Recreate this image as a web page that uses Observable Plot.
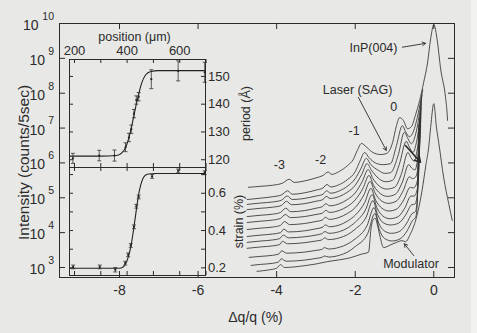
<!DOCTYPE html>
<html><head><meta charset="utf-8">
<script src="https://cdn.jsdelivr.net/npm/d3@7"></script>
<script src="https://cdn.jsdelivr.net/npm/@observablehq/plot@0.6"></script>
<style>
html,body{margin:0;padding:0;background:#e8e8e6;}
#wrap{position:relative;width:477px;height:333px;overflow:hidden;background:#e8e8e6;}
#strip{position:absolute;left:471px;top:0;width:6px;height:333px;background:#f2f2f1;}
</style></head><body><div id="wrap"><div id="strip"></div></div>
<script>
// ---------- main chart data: Δq/q (%) vs log10 intensity, curves top (Laser SAG) to bottom (Modulator)
const curve0 = [[-4.72,5.30],[-4.4,5.33],[-4.1,5.36],[-3.85,5.42],[-3.68,5.53],[-3.55,5.44],[-3.3,5.48],[-3.0,5.57],[-2.82,5.64],[-2.69,5.74],[-2.6,5.67],[-2.4,5.76],[-2.2,5.92],[-2.05,6.1],[-1.95,6.35],[-1.84,6.56],[-1.72,6.46],[-1.55,6.30],[-1.35,6.24],[-1.2,6.27],[-1.05,6.58],[-0.95,7.07],[-0.87,7.30],[-0.77,7.21],[-0.67,6.98],[-0.57,7.04],[-0.47,7.36],[-0.36,7.79],[-0.26,8.30],[-0.16,8.87],[-0.08,9.56],[0,9.97],[0.09,9.50],[0.17,8.73],[0.30,7.87],[0.34,7.41],[0.35,7.22]];
const curve1 = [[-4.75,4.95],[-4.4,4.99],[-4.1,5.03],[-3.88,5.08],[-3.72,5.2],[-3.6,5.1],[-3.3,5.14],[-3.0,5.22],[-2.82,5.28],[-2.72,5.38],[-2.62,5.31],[-2.4,5.38],[-2.2,5.52],[-2.0,5.75],[-1.88,6.05],[-1.76,6.30],[-1.65,6.15],[-1.45,5.98],[-1.3,5.95],[-1.1,5.98],[-0.95,6.5],[-0.8,7.07],[-0.72,6.9],[-0.62,6.75],[-0.52,6.9],[-0.42,7.3],[-0.33,7.8],[-0.28,8.1]];
const curve2 = [[-4.75,4.81],[-4.4,4.85],[-4.1,4.88],[-3.88,4.93],[-3.73,5.05],[-3.6,4.95],[-3.3,4.98],[-3.0,5.05],[-2.82,5.1],[-2.73,5.2],[-2.62,5.13],[-2.4,5.2],[-2.2,5.33],[-2.0,5.55],[-1.85,5.85],[-1.72,6.13],[-1.6,5.95],[-1.4,5.78],[-1.25,5.70],[-1.1,5.72],[-0.9,6.25],[-0.75,6.88],[-0.66,6.7],[-0.57,6.55],[-0.48,6.75],[-0.38,7.3],[-0.30,7.95]];
const curve3 = [[-4.75,4.66],[-4.4,4.70],[-4.1,4.73],[-3.88,4.78],[-3.75,4.9],[-3.62,4.8],[-3.3,4.83],[-3.0,4.9],[-2.82,4.95],[-2.74,5.04],[-2.64,4.98],[-2.4,5.04],[-2.2,5.16],[-2.0,5.36],[-1.83,5.68],[-1.70,5.98],[-1.58,5.78],[-1.4,5.55],[-1.22,5.46],[-1.05,5.5],[-0.88,5.95],[-0.70,6.62],[-0.62,6.45],[-0.53,6.3],[-0.45,6.55],[-0.36,7.2],[-0.31,7.85]];
const curve4 = [[-4.75,4.46],[-4.4,4.5],[-4.1,4.53],[-3.9,4.58],[-3.77,4.7],[-3.64,4.6],[-3.3,4.63],[-3.0,4.70],[-2.83,4.75],[-2.75,4.83],[-2.65,4.77],[-2.4,4.83],[-2.2,4.95],[-2.0,5.14],[-1.82,5.47],[-1.67,5.81],[-1.55,5.55],[-1.38,5.33],[-1.2,5.25],[-1.0,5.3],[-0.82,5.7],[-0.66,6.3],[-0.58,6.15],[-0.5,6.05],[-0.42,6.4],[-0.34,7.1],[-0.32,7.7]];
const curve5 = [[-4.75,4.29],[-4.4,4.33],[-4.1,4.36],[-3.9,4.41],[-3.78,4.52],[-3.65,4.43],[-3.3,4.46],[-3.0,4.52],[-2.83,4.56],[-2.75,4.64],[-2.65,4.58],[-2.4,4.64],[-2.2,4.75],[-2.0,4.94],[-1.8,5.28],[-1.65,5.64],[-1.53,5.35],[-1.36,5.12],[-1.18,5.04],[-0.98,5.1],[-0.8,5.45],[-0.64,5.95],[-0.56,5.85],[-0.48,5.8],[-0.4,6.2],[-0.34,6.9],[-0.33,7.6]];
const curve6 = [[-4.75,4.09],[-4.4,4.13],[-4.1,4.16],[-3.9,4.21],[-3.8,4.32],[-3.67,4.23],[-3.3,4.26],[-3.0,4.32],[-2.84,4.36],[-2.76,4.44],[-2.66,4.38],[-2.4,4.44],[-2.2,4.55],[-2.0,4.72],[-1.78,5.08],[-1.62,5.47],[-1.5,5.15],[-1.34,4.92],[-1.16,4.84],[-0.96,4.9],[-0.78,5.2],[-0.62,5.6],[-0.54,5.55],[-0.46,5.6],[-0.38,6.1],[-0.35,6.8],[-0.34,7.5]];
const curve7 = [[-4.75,3.89],[-4.4,3.93],[-4.1,3.96],[-3.9,4.0],[-3.82,4.1],[-3.7,4.02],[-3.3,4.05],[-3.0,4.11],[-2.84,4.15],[-2.76,4.22],[-2.66,4.17],[-2.4,4.22],[-2.2,4.33],[-2.0,4.5],[-1.76,4.86],[-1.60,5.27],[-1.48,4.93],[-1.32,4.7],[-1.14,4.62],[-0.94,4.68],[-0.76,4.95],[-0.6,5.3],[-0.52,5.28],[-0.44,5.4],[-0.38,5.9],[-0.36,6.7],[-0.35,7.4]];
const curve8 = [[-4.75,3.72],[-4.4,3.76],[-4.1,3.79],[-3.92,3.83],[-3.83,3.93],[-3.7,3.85],[-3.3,3.88],[-3.0,3.93],[-2.85,3.97],[-2.77,4.03],[-2.67,3.98],[-2.4,4.03],[-2.2,4.13],[-2.0,4.3],[-1.74,4.65],[-1.57,5.09],[-1.45,4.72],[-1.3,4.48],[-1.12,4.4],[-0.92,4.45],[-0.74,4.7],[-0.58,5.05],[-0.5,5.05],[-0.42,5.25],[-0.38,5.8],[-0.37,6.6],[-0.36,7.3]];
const curve9 = [[-4.75,3.55],[-4.4,3.59],[-4.1,3.62],[-3.92,3.66],[-3.85,3.75],[-3.72,3.68],[-3.3,3.71],[-3.0,3.76],[-2.85,3.79],[-2.78,3.85],[-2.68,3.8],[-2.4,3.85],[-2.2,3.94],[-2.0,4.1],[-1.72,4.45],[-1.55,4.92],[-1.43,4.52],[-1.28,4.28],[-1.1,4.22],[-0.9,4.27],[-0.72,4.5],[-0.56,4.8],[-0.48,4.82],[-0.42,5.1],[-0.39,5.7],[-0.38,6.5],[-0.37,7.2]];
const curve10 = [[-4.7,3.29],[-4.4,3.32],[-4.1,3.35],[-3.94,3.39],[-3.87,3.48],[-3.75,3.41],[-3.3,3.44],[-3.0,3.49],[-2.85,3.52],[-2.78,3.57],[-2.68,3.53],[-2.4,3.58],[-2.2,3.67],[-2.0,3.82],[-1.7,4.2],[-1.52,4.72],[-1.41,4.3],[-1.26,4.05],[-1.08,3.98],[-0.88,4.03],[-0.7,4.25],[-0.55,4.55],[-0.47,4.6],[-0.42,4.95],[-0.40,5.6],[-0.39,6.4],[-0.38,7.1]];
const curve11 = [[-4.65,3.06],[-4.4,3.09],[-4.1,3.12],[-3.95,3.16],[-3.88,3.25],[-3.76,3.18],[-3.3,3.21],[-3.0,3.26],[-2.85,3.29],[-2.78,3.33],[-2.68,3.3],[-2.4,3.35],[-2.2,3.44],[-2.0,3.6],[-1.68,3.98],[-1.50,4.55],[-1.39,4.1],[-1.25,3.83],[-1.06,3.76],[-0.86,3.82],[-0.68,4.05],[-0.54,4.35],[-0.46,4.45],[-0.42,4.85],[-0.41,5.5],[-0.40,6.3],[-0.39,7.0]];
const curve12 = [[-4.5,2.89],[-4.2,2.93],[-4.0,2.98],[-3.9,3.08],[-3.8,3.0],[-3.3,3.05],[-3.0,3.1],[-2.7,3.17],[-2.4,3.22],[-2.12,3.28],[-1.85,3.38],[-1.66,3.44],[-1.6,4.1],[-1.54,4.38],[-1.49,4.41],[-1.43,4.2],[-1.36,3.85],[-1.28,3.57],[-1.1,3.65],[-0.95,3.72],[-0.81,3.77],[-0.72,3.74],[-0.6,3.95],[-0.45,4.4],[-0.3,5.2],[-0.2,5.95],[-0.13,6.45],[-0.08,7.02],[0,7.70],[0.07,7.0],[0.13,6.55],[0.25,5.59],[0.38,4.83],[0.47,4.35]];
const curves = [curve0,curve1,curve2,curve3,curve4,curve5,curve6,curve7,curve8,curve9,curve10,curve11,curve12];

const xTicks = [-8,-6,-4,-2,0];
const yExps = [3,4,5,6,7,8,9,10];
const peakLabels = [{t:"-3",x:-3.93,e:5.93},{t:"-2",x:-2.88,e:6.07},{t:"-1",x:-2.03,e:6.93},{t:"0",x:-1.02,e:7.60}];
const annoLabels = [{t:"InP(004)",x:-1.535,e:9.31},{t:"Laser (SAG)",x:-1.94,e:8.08},{t:"Modulator",x:-0.58,e:3.09}];
const arrows = [{x1:-0.80,e1:9.32,x2:-0.21,e2:9.43,w:0.9},{x1:-1.92,e1:7.88,x2:-1.21,e2:6.36,w:0.9},{x1:-0.72,e1:6.50,x2:-0.34,e2:6.02,w:1.6},{x1:-0.51,e1:3.34,x2:-0.75,e2:3.68,w:0.9}];

// ---------- inset data
const posTicks = [200,300,400,500,600,700];
const posLabels = [200,400,600];
const periodTicks = [120,130,140,150];
const strainTicks = [0.2,0.3,0.4,0.5,0.6,0.7];
const strainLabels = [0.2,0.4,0.6];
const periodPos = [194,294,352,394,407,416,426,435,444,492,594,695];
const periodVal = [120.5,121.5,121.5,124.5,128,131,136.6,141.5,142.7,149,152,151.5];
const periodErr = [1.8,1.9,2.0,1.6,1.5,1.5,1.5,1.5,1.5,3.4,3.6,3.6];
const periodFitPos = [181,300,360,380,395,405,415,425,435,445,455,470,490,520,698];
const periodFitVal = [121.3,121.3,121.5,122.5,124.5,127.3,131,135.5,140,144,147.5,150.5,151.8,152.1,152.1];
const strainPos = [195,296,355,393,404,414,426,435,444,495,594,695];
const strainVal = [0.205,0.205,0.19,0.225,0.27,0.32,0.42,0.53,0.58,0.69,0.72,0.71];
const strainErr = [0.01,0.01,0.012,0.01,0.01,0.01,0.01,0.01,0.01,0.01,0.01,0.01];
const strainFitPos = [181,370,385,395,405,415,422,430,438,446,455,465,480,510,698];
const strainFitVal = [0.198,0.198,0.205,0.225,0.26,0.32,0.38,0.46,0.54,0.61,0.66,0.69,0.703,0.706,0.706];

// ---------- drawing
const FONT = '"Liberation Sans", Arial, Helvetica, sans-serif';
const INK = "#2b2b2b";
const wrap = document.getElementById("wrap");
const baseStyle = {background: "transparent", fontFamily: FONT, color: INK, overflow: "visible"};

const rows = curves.flatMap((c, k) => c.map(([dq, e]) => ({k, dq, I: Math.pow(10, e)})));
const W = 477, H = 333, ML = 59, MR = 23, MT = 23, MB = 56;
const FW = W - ML - MR, FH = H - MT - MB;
const T = {fill: INK, lineAnchor: "middle"};

const main = Plot.plot({
  width: W, height: H, marginLeft: ML, marginRight: MR, marginTop: MT, marginBottom: MB,
  style: baseStyle,
  x: {domain: [-9.527, 0.527], axis: null},
  y: {type: "log", domain: [516, 1e10], axis: null},
  marks: [
    Plot.frame({stroke: INK, strokeWidth: 1}),
    Plot.tickX(xTicks, {x: d => d, insetTop: FH - 6, stroke: INK}),
    Plot.tickX(xTicks, {x: d => d, insetBottom: FH - 6, stroke: INK}),
    Plot.tickY(yExps.slice(0, -1), {y: e => Math.pow(10, e), insetRight: FW - 6, stroke: INK}),
    Plot.tickY(yExps.slice(0, -1), {y: e => Math.pow(10, e), insetLeft: FW - 6, stroke: INK}),
    Plot.text(xTicks, {...T, x: d => d, text: d => String(d), frameAnchor: "bottom", textAnchor: "middle", dy: 13, fontSize: 14}),
    Plot.text(yExps, {...T, y: e => Math.pow(10, e), text: () => "10", frameAnchor: "left", textAnchor: "end", dx: -14.5, dy: 2, fontSize: 14, filter: e => e < 10}),
    Plot.text(yExps, {...T, y: e => Math.pow(10, e), text: () => "10", frameAnchor: "left", textAnchor: "end", dx: -21, dy: 2, fontSize: 14, filter: e => e >= 10}),
    Plot.text(yExps, {...T, y: e => Math.pow(10, e), text: e => String(e), frameAnchor: "left", textAnchor: "end", dx: -5.5, dy: -7, fontSize: 10.5}),
    Plot.text(["Δq/q (%)"], {...T, frameAnchor: "bottom", textAnchor: "middle", dx: -1.5, dy: 40, fontSize: 14}),
    Plot.text(["Intensity (counts/5sec)"], {...T, frameAnchor: "left", textAnchor: "middle", rotate: -90, dx: -35, dy: 12, fontSize: 15.5}),
    Plot.line(rows, {x: "dq", y: "I", z: "k", stroke: "#333", strokeWidth: 0.85, curve: "monotone-x"}),
    Plot.text(peakLabels, {...T, x: "x", y: d => Math.pow(10, d.e), text: "t", fontSize: 12.5}),
    Plot.text(annoLabels, {...T, x: "x", y: d => Math.pow(10, d.e), text: "t", fontSize: 12.5}),
    Plot.arrow(arrows.filter(a => a.w < 1), {x1: "x1", y1: d => Math.pow(10, d.e1), x2: "x2", y2: d => Math.pow(10, d.e2), stroke: INK, strokeWidth: 0.9, headLength: 6}),
    Plot.arrow(arrows.filter(a => a.w >= 1), {x1: "x1", y1: d => Math.pow(10, d.e1), x2: "x2", y2: d => Math.pow(10, d.e2), stroke: INK, strokeWidth: 1.6, headLength: 6})
  ]
});
main.style.position = "absolute"; main.style.left = "0px"; main.style.top = "0px";
wrap.appendChild(main);

const hbar = {draw(ctx, size) { const r = Math.sqrt(size / Math.PI); ctx.moveTo(-r, 0); ctx.lineTo(r, 0); }};
function panel(pos, val, err, fitPos, fitVal, yDomain, yTicks, yLabels, yFmt, title, top, opts) {
  const pts = pos.map((p, i) => ({p, v: val[i], e: err[i]}));
  const fit = fitPos.map((p, i) => ({p, v: fitVal[i]}));
  const caps = pts.flatMap(d => [{p: d.p, v: d.v - d.e}, {p: d.p, v: d.v + d.e}]);
  const PW = 136, PH = 108;
  const marks = [
    Plot.frame({stroke: INK}),
    Plot.tickX(posTicks, {x: d => d, insetTop: PH - 4, stroke: INK}),
    Plot.tickX(posTicks, {x: d => d, insetBottom: PH - 4, stroke: INK}),
    Plot.tickY(yTicks, {y: d => d, insetRight: PW - 4, stroke: INK}),
    Plot.tickY(yTicks, {y: d => d, insetLeft: PW - 4, stroke: INK}),
    Plot.text(yLabels, {...T, y: d => d, text: yFmt, frameAnchor: "right", textAnchor: "start", dx: 2.5, fontSize: 13}),
    Plot.text([title], {...T, frameAnchor: "right", textAnchor: "middle", rotate: -90, dx: opts.titleDx, fontSize: 12.5}),
    Plot.line(fit, {x: "p", y: "v", curve: "monotone-x", stroke: "#222", strokeWidth: 1.1}),
    Plot.link(pts, {x1: "p", x2: "p", y1: d => d.v - d.e, y2: d => d.v + d.e, stroke: "#333", strokeWidth: 0.8}),
    Plot.dot(caps, {x: "p", y: "v", symbol: hbar, r: 2, stroke: "#333", strokeWidth: 0.8, fill: "none"}),
    Plot.dot(pts, {x: "p", y: "v", r: 1.1, fill: "#222"})
  ];
  if (opts.top) {
    marks.push(Plot.text(posLabels, {...T, x: d => d, text: d => String(d), frameAnchor: "top", textAnchor: "middle", dy: -8.5, fontSize: 13}));
    marks.push(Plot.text(["position (μm)"], {...T, frameAnchor: "top", textAnchor: "middle", dx: -3, dy: -22.5, fontSize: 12.5}));
  }
  const mt = opts.top ? 46 : 2;
  const svg = Plot.plot({
    width: 2 + PW + 50, height: mt + PH + 2, marginLeft: 2, marginRight: 50, marginTop: mt, marginBottom: 2,
    style: baseStyle,
    x: {domain: [181, 698], axis: null},
    y: {domain: yDomain, axis: null},
    marks
  });
  svg.style.position = "absolute"; svg.style.left = "67px"; svg.style.top = (top - mt) + "px";
  wrap.appendChild(svg);
}
panel(periodPos, periodVal, periodErr, periodFitPos, periodFitVal, [117.2, 156.1], periodTicks, periodTicks, d => String(d), "period (Å)", 59, {top: true, titleDx: 40});
panel(strainPos, strainVal, strainErr, strainFitPos, strainFitVal, [0.159, 0.738], strainTicks, strainLabels, d => d.toFixed(1), "strain (%)", 167, {top: false, titleDx: 33});
</script></body></html>
